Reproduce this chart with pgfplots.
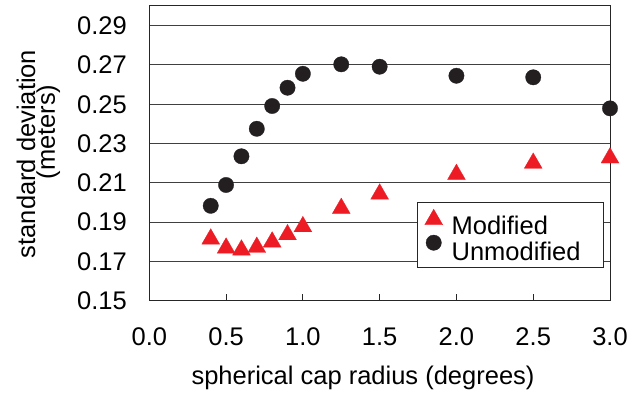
\documentclass[border=0pt]{standalone}
\usepackage{pgfplots}
\pgfplotsset{compat=1.18}
\usepackage{fontspec}
\setmainfont{Liberation Sans}
\definecolor{myred}{RGB}{237,28,36}
\definecolor{myblack}{RGB}{35,31,32}
\newcommand{\bigf}{\fontsize{25.5}{30}\selectfont}
\pgfplotsset{
 trileg/.style={legend image code/.code={\draw[##1] plot coordinates {(0pt,5.2pt)};}},
 circleg/.style={legend image code/.code={\draw[##1] plot coordinates {(0pt,7.6pt)};}},
}
\begin{document}
\bigf
\begin{tikzpicture}
\useasboundingbox (0,0) rectangle (636pt,395pt);
\begin{axis}[
 at={(149.3pt,94.3pt)}, anchor=south west, scale only axis,
 width=460.7pt, height=294.7pt,
 xmin=0, xmax=3, ymin=0.15, ymax=0.30,
 xtick={0,0.5,1,1.5,2,2.5,3},
 xticklabels={0.0,0.5,1.0,1.5,2.0,2.5,3.0},
 ytick={0.15,0.17,0.19,0.21,0.23,0.25,0.27,0.29},
 yticklabels={0.15,0.17,0.19,0.21,0.23,0.25,0.27,0.29},
 ymajorgrids, grid style={black!75, line width=0.9pt},
 axis line style={black!85, line width=1pt},
 xtick pos=bottom, tick align=inside, major tick length=7pt,
 xtick style={black!85, line width=1pt},
 ytick style={draw=none},
 ticklabel style={font=\bigf, inner sep=0pt},
 xticklabel style={anchor=base, yshift=-45.3pt},
 yticklabel style={anchor=east, xshift=-22.3pt},
 clip=false,
 xlabel={spherical cap radius (degrees)},
 xlabel style={at={(axis description cs:0.4639,0)}, anchor=base, yshift=-83.6pt, inner sep=0pt, font=\bigf},
 ylabel={standard deviation},
 ylabel style={at={(axis description cs:-0.2481,0.4978)}, anchor=base, inner sep=0pt, font=\bigf},
 legend style={at={(axis description cs:0.5817,0.3359)}, anchor=north west, draw=black!85, line width=1pt, fill=white,
   inner xsep=7pt, inner ysep=7pt, row sep=0.3pt, column sep=9pt,
   nodes={inner sep=0pt, text width=145pt, text height=20pt, text depth=0pt, align=left, font=\bigf}},
 legend cell align=left,
]
\addplot[only marks, mark=triangle*, mark size=10.3pt, mark options={fill=myred, draw=myred, line width=0.3pt}, trileg]
 coordinates {(0.4,0.1814)(0.5,0.1768)(0.6,0.1758)(0.7,0.1772)(0.8,0.1799)(0.9,0.1836)(1.0,0.1877)(1.25,0.1970)(1.5,0.2043)(2.0,0.2143)(2.5,0.2200)(3.0,0.2227)};
\addlegendentry{Modified}
\addplot[only marks, mark=*, mark size=7.7pt, mark options={fill=myblack, draw=myblack, line width=0.3pt}, circleg]
 coordinates {(0.4,0.1983)(0.5,0.2089)(0.6,0.2235)(0.7,0.2375)(0.8,0.2491)(0.9,0.2584)(1.0,0.2655)(1.25,0.2703)(1.5,0.2691)(2.0,0.2645)(2.5,0.2637)(3.0,0.2479)};
\addlegendentry{Unmodified}
\node[rotate=90, anchor=base, inner sep=0pt, font=\bigf] at (axis description cs:-0.2047,0.5724) {(meters)};
\end{axis}
\end{tikzpicture}
\end{document}
